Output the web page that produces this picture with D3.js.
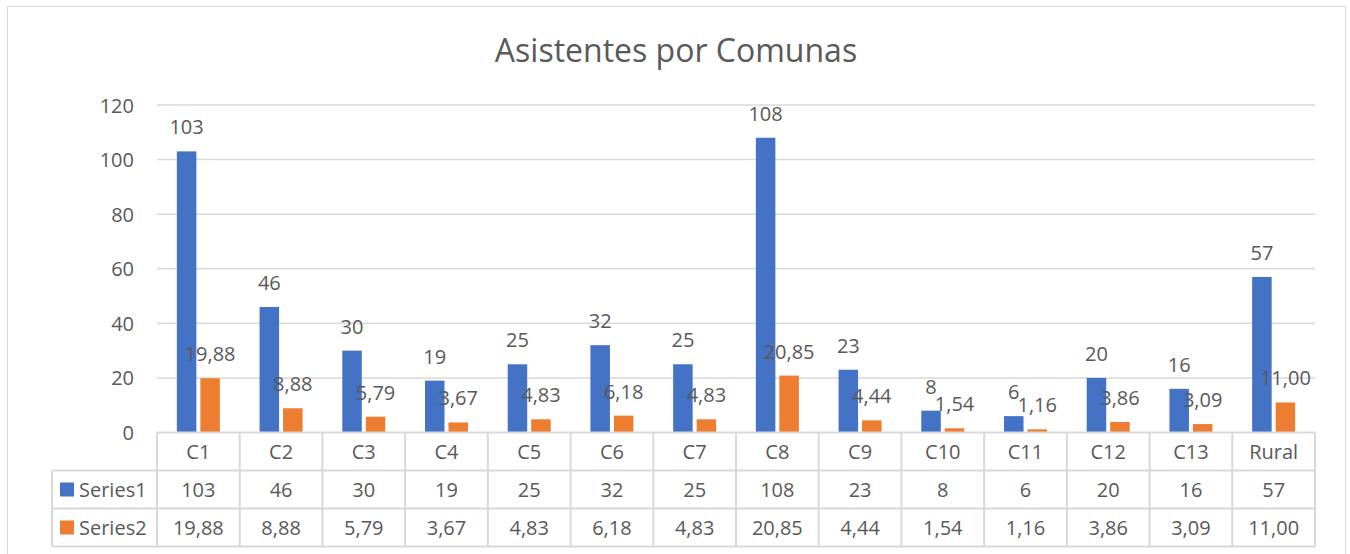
<!DOCTYPE html>
<html lang="es">
<head>
  <meta charset="utf-8">
  <title>Asistentes por Comunas</title>
  <script src="https://d3js.org/d3.v7.min.js"></script>
  <style>
    body { margin: 0; background: #fff; }
    text { font-family: "Open Sans", sans-serif; fill: #595959; }
  </style>
</head>
<body>
<script>
// data
var categories = ["C1","C2","C3","C4","C5","C6","C7","C8","C9","C10","C11","C12","C13","Rural"];
var seriesNames = ["Series1","Series2"];
var series1 = [103,46,30,19,25,32,25,108,23,8,6,20,16,57];
var series2 = [19.88,8.88,5.79,3.67,4.83,6.18,4.83,20.85,4.44,1.54,1.16,3.86,3.09,11.00];
var yTicks = [0,20,40,60,80,100,120];
var colors = ["#4472C4","#ED7D31"];

var width = 1350, height = 554;
var plotLeft = 157, plotRight = 1315, plotTop = 105, plotBottom = 432.5;
var rowH = 38, legendLeft = 52;

var fmt = function(v, s) { return s === 0 ? String(v) : v.toFixed(2).replace(".", ","); };
var values = [series1, series2];

var svg = d3.select("body").append("svg")
  .attr("width", width).attr("height", height);

// outer border
svg.append("rect")
  .attr("x", 7.5).attr("y", 6.5).attr("width", 1338).attr("height", 560)
  .attr("fill", "none").attr("stroke", "#d9d9d9").attr("stroke-width", 1);

svg.append("text")
  .attr("x", 676).attr("y", 62)
  .attr("text-anchor", "middle")
  .attr("font-size", "32px")
  .text("Asistentes por Comunas");

var x = d3.scaleBand().domain(categories).range([plotLeft, plotRight]);
var y = d3.scaleLinear().domain([0, 120]).range([plotBottom, plotTop]);
var xs = d3.scaleBand().domain(seriesNames).paddingInner(0.17);

// gridlines
svg.selectAll("line.grid")
  .data(yTicks.filter(function(d) { return d > 0; }))
  .enter().append("line")
  .attr("class", "grid")
  .attr("x1", plotLeft).attr("x2", plotRight)
  .attr("y1", function(d) { return y(d); }).attr("y2", function(d) { return y(d); })
  .attr("stroke", "#d9d9d9").attr("stroke-width", 1.5);

// y axis labels
svg.selectAll("text.ytick")
  .data(yTicks)
  .enter().append("text")
  .attr("class", "ytick")
  .attr("x", 134).attr("y", function(d) { return y(d); })
  .attr("text-anchor", "end").attr("dominant-baseline", "central")
  .attr("font-size", "20px")
  .text(function(d) { return d; });

// bars
var rows = [];
categories.forEach(function(c, i) {
  seriesNames.forEach(function(s, j) {
    rows.push({ cat: c, s: j, v: values[j][i] });
  });
});

function barX(d) {
  var cx = x(d.cat) + x.bandwidth() / 2;
  xs.range([cx - 21.5, cx + 21.5]);
  return xs(seriesNames[d.s]);
}

svg.selectAll("rect.bar")
  .data(rows)
  .enter().append("rect")
  .attr("class", "bar")
  .attr("x", barX)
  .attr("width", function() { return xs.bandwidth(); })
  .attr("y", function(d) { return y(d.v); })
  .attr("height", function(d) { return y(0) - y(d.v); })
  .attr("fill", function(d) { return colors[d.s]; });

// data labels
svg.selectAll("text.lbl")
  .data(rows)
  .enter().append("text")
  .attr("class", "lbl")
  .attr("x", function(d) { return barX(d) + xs.bandwidth() / 2; })
  .attr("y", function(d) { return y(d.v) - 17; })
  .attr("text-anchor", "middle")
  .attr("font-size", "20px")
  .text(function(d) { return fmt(d.v, d.s); });

// data table
var tbl = svg.append("g");
var lineCol = "#d9d9d9";
// horizontal lines
[plotBottom, plotBottom + rowH, plotBottom + 2 * rowH, plotBottom + 3 * rowH].forEach(function(yy, k) {
  tbl.append("line")
    .attr("x1", k === 0 ? plotLeft : legendLeft).attr("x2", plotRight)
    .attr("y1", yy).attr("y2", yy)
    .attr("stroke", lineCol).attr("stroke-width", 2);
});
// vertical lines
var vx = categories.map(function(c) { return x(c); }).concat([plotRight]);
tbl.selectAll("line.v")
  .data(vx)
  .enter().append("line")
  .attr("x1", function(d) { return d; }).attr("x2", function(d) { return d; })
  .attr("y1", plotBottom).attr("y2", plotBottom + 3 * rowH)
  .attr("stroke", lineCol).attr("stroke-width", 2);
tbl.append("line")
  .attr("x1", legendLeft).attr("x2", legendLeft)
  .attr("y1", plotBottom + rowH).attr("y2", plotBottom + 3 * rowH)
  .attr("stroke", lineCol).attr("stroke-width", 2);

// header row
tbl.selectAll("text.cat")
  .data(categories)
  .enter().append("text")
  .attr("x", function(d) { return x(d) + x.bandwidth() / 2; })
  .attr("y", plotBottom + rowH / 2)
  .attr("text-anchor", "middle").attr("dominant-baseline", "central")
  .attr("font-size", "20px")
  .text(function(d) { return d; });

// series rows
seriesNames.forEach(function(s, j) {
  var cy = plotBottom + rowH * (j + 1) + rowH / 2;
  tbl.append("rect")
    .attr("x", 60).attr("y", cy - 7).attr("width", 14).attr("height", 14)
    .attr("fill", colors[j]);
  tbl.append("text")
    .attr("x", 79).attr("y", cy)
    .attr("dominant-baseline", "central")
    .attr("font-size", "20px")
    .text(s);
  tbl.selectAll("text.v" + j)
    .data(values[j])
    .enter().append("text")
    .attr("x", function(d, i) { return x(categories[i]) + x.bandwidth() / 2; })
    .attr("y", cy)
    .attr("text-anchor", "middle").attr("dominant-baseline", "central")
    .attr("font-size", "20px")
    .text(function(d) { return fmt(d, j); });
});
</script>
</body>
</html>
